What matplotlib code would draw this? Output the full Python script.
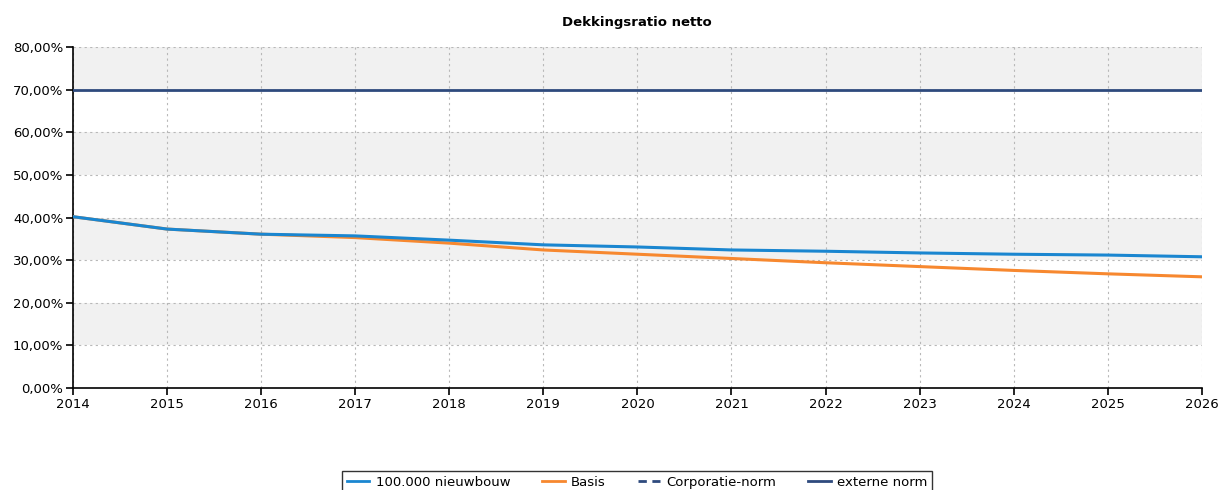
import numpy as np
import matplotlib.pyplot as plt
from matplotlib.ticker import FuncFormatter
from matplotlib.lines import Line2D

# data
years = list(range(2014, 2027))
nieuwbouw = [40.2, 37.3, 36.1, 35.7, 34.7, 33.6, 33.1, 32.4, 32.1, 31.7, 31.4, 31.2, 30.8]
basis = [40.2, 37.3, 36.1, 35.3, 34.0, 32.4, 31.4, 30.4, 29.4, 28.5, 27.6, 26.8, 26.1]
externe_norm = 70.0

plt.rcParams['font.family'] = ['DejaVu Sans']
plt.rcParams['font.size'] = 9.5

fig = plt.figure(figsize=(12.23, 4.9), dpi=100)
ax = fig.add_axes([0.0597, 0.208, 0.923, 0.696])

# alternating bands
for lo in range(10, 80, 20):
    ax.axhspan(lo, lo + 10, color='#f1f1f1', zorder=0, lw=0)

ax.grid(True, color='#b8b8b8', linestyle=(0, (2, 3)), linewidth=0.8, zorder=1)

ax.plot(years, basis, color='#f7882f', lw=2.2, zorder=3)
ax.plot(years, nieuwbouw, color='#1a86d0', lw=2.2, zorder=4)
ax.axhline(externe_norm, color='#2e4a7d', lw=2.0, zorder=5)

ax.set_xlim(2014, 2026)
ax.set_ylim(0, 80)
ax.set_xticks(years)
ax.set_yticks(range(0, 81, 10))
ax.yaxis.set_major_formatter(FuncFormatter(lambda v, p: f'{v:.2f}%'.replace('.', ',')))

for s in ['top', 'right']:
    ax.spines[s].set_visible(False)
for s in ['left', 'bottom']:
    ax.spines[s].set_linewidth(1.2)
ax.tick_params(length=5, width=1.2, colors='black', labelsize=9.5, pad=2)

fig.text(0.521, 0.955, 'Dekkingsratio netto', ha='center', va='center',
         fontsize=9.5, fontweight='bold')

handles = [
    Line2D([], [], color='#1a86d0', lw=2),
    Line2D([], [], color='#f7882f', lw=2),
    Line2D([], [], color='#2e4a7d', lw=2, linestyle=(0, (3, 2))),
    Line2D([], [], color='#2e4a7d', lw=2),
]
labels = ['100.000 nieuwbouw', 'Basis', 'Corporatie-norm', 'externe norm']
leg = fig.legend(handles, labels, loc='center', bbox_to_anchor=(0.521, 0.0163),
                 ncol=4, frameon=True, fancybox=False, edgecolor='black',
                 handlelength=1.7, handletextpad=0.5, columnspacing=2.4,
                 borderpad=0.35, fontsize=9.5)
leg.get_frame().set_linewidth(1.0)

fig.savefig('out.png', dpi=100)
